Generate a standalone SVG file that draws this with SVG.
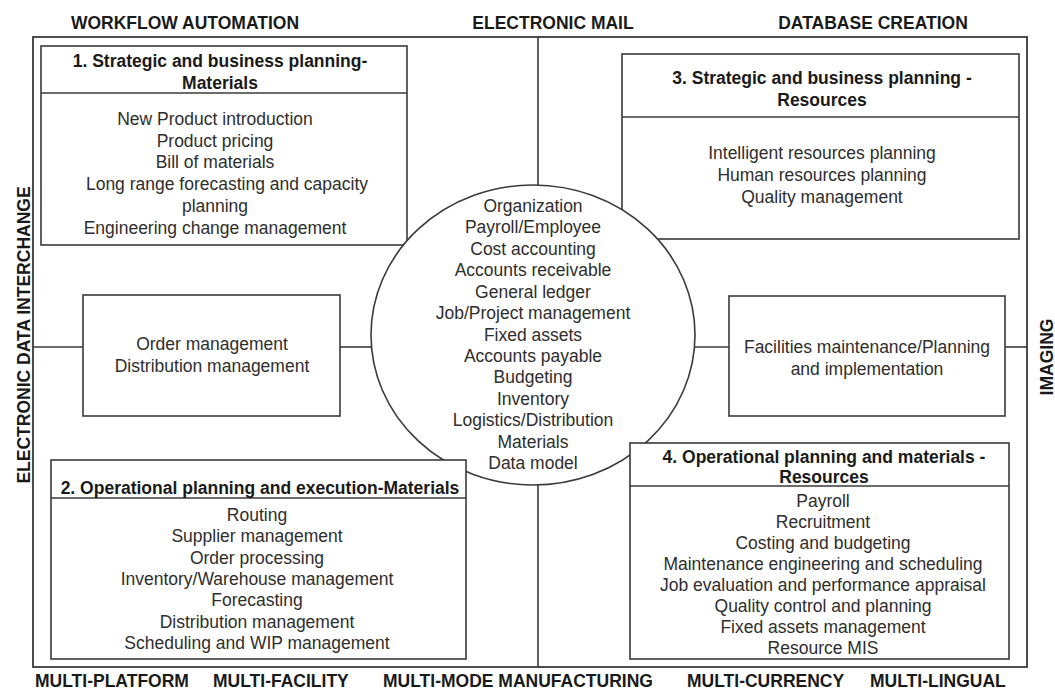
<svg xmlns="http://www.w3.org/2000/svg" width="1055" height="689" viewBox="0 0 1055 689">
  <style>
    .frame { fill: none; stroke: #3a3a3a; stroke-width: 1.8; }
    .box { fill: #ffffff; stroke: #3a3a3a; stroke-width: 1.6; }
    .rule { stroke: #3a3a3a; stroke-width: 1.6; }
    .conn { stroke: #3a3a3a; stroke-width: 1.6; fill: none; }
    .hub { fill: #ffffff; stroke: #3a3a3a; stroke-width: 1.6; }
    .label { font-family: "Liberation Sans", Arial, sans-serif; font-weight: bold; font-size: 17.5px; fill: #1a1a1a; }
    .head { font-family: "Liberation Sans", Arial, sans-serif; font-weight: bold; font-size: 17.5px; fill: #1a1a1a; text-anchor: middle; }
    .body { font-family: "Liberation Sans", Arial, sans-serif; font-size: 17.5px; fill: #2e2e2e; text-anchor: middle; }
  </style>

  <rect width="1055" height="689" fill="#ffffff"/>

  <!-- outer frame and side labels -->
  <g id="frame">
    <rect class="frame" x="33" y="37" width="994" height="630"/>
    <text class="label" x="185" y="29" text-anchor="middle">WORKFLOW AUTOMATION</text>
    <text class="label" x="553" y="29" text-anchor="middle">ELECTRONIC MAIL</text>
    <text class="label" x="873" y="29" text-anchor="middle">DATABASE CREATION</text>
    <text class="label" transform="translate(30,335) rotate(-90)" text-anchor="middle">ELECTRONIC DATA INTERCHANGE</text>
    <text class="label" transform="translate(1053,357) rotate(-90)" text-anchor="middle">IMAGING</text>
    <text class="label" x="35" y="687">MULTI-PLATFORM</text>
    <text class="label" x="213" y="687">MULTI-FACILITY</text>
    <text class="label" x="383" y="687">MULTI-MODE MANUFACTURING</text>
    <text class="label" x="687" y="687">MULTI-CURRENCY</text>
    <text class="label" x="870" y="687">MULTI-LINGUAL</text>
  </g>

  <!-- connectors -->
  <g id="connectors">
    <line class="conn" x1="538" y1="37" x2="538" y2="186"/>
    <line class="conn" x1="538" y1="484" x2="538" y2="667"/>
    <line class="conn" x1="33" y1="347" x2="83" y2="347"/>
    <line class="conn" x1="340" y1="347" x2="372" y2="347"/>
    <line class="conn" x1="694" y1="347" x2="729" y2="347"/>
    <line class="conn" x1="1005" y1="347" x2="1027" y2="347"/>
  </g>

  <!-- 1. Strategic and business planning - Materials -->
  <g id="box-strategic-materials">
    <rect class="box" x="41" y="46" width="366" height="199"/>
    <line class="rule" x1="41" y1="93" x2="407" y2="93"/>
    <text class="head" x="220" y="67">1. Strategic and business planning-</text>
    <text class="head" x="220" y="89">Materials</text>
    <text class="body" x="215" y="125">New Product introduction</text>
    <text class="body" x="215" y="147">Product pricing</text>
    <text class="body" x="215" y="168">Bill of materials</text>
    <text class="body" x="227" y="190">Long range forecasting and capacity</text>
    <text class="body" x="215" y="212">planning</text>
    <text class="body" x="215" y="234">Engineering change management</text>
  </g>

  <!-- 3. Strategic and business planning - Resources -->
  <g id="box-strategic-resources">
    <rect class="box" x="622" y="54" width="397" height="185"/>
    <line class="rule" x1="622" y1="117" x2="1019" y2="117"/>
    <text class="head" x="822" y="84">3. Strategic and business planning -</text>
    <text class="head" x="822" y="106">Resources</text>
    <text class="body" x="822" y="159">Intelligent resources planning</text>
    <text class="body" x="822" y="181">Human resources planning</text>
    <text class="body" x="822" y="203">Quality management</text>
  </g>

  <!-- order / distribution -->
  <g id="box-order">
    <rect class="box" x="83" y="295" width="257" height="121"/>
    <text class="body" x="212" y="350">Order management</text>
    <text class="body" x="212" y="372">Distribution management</text>
  </g>

  <!-- facilities -->
  <g id="box-facilities">
    <rect class="box" x="729" y="296" width="276" height="120"/>
    <text class="body" x="867" y="353">Facilities maintenance/Planning</text>
    <text class="body" x="867" y="375">and implementation</text>
  </g>

  <!-- central data model -->
  <g id="hub">
    <ellipse class="hub" cx="533" cy="335" rx="162" ry="150"/>
    <text class="body" x="533" y="212">Organization</text>
    <text class="body" x="533" y="233.4">Payroll/Employee</text>
    <text class="body" x="533" y="254.8">Cost accounting</text>
    <text class="body" x="533" y="276.3">Accounts receivable</text>
    <text class="body" x="533" y="297.7">General ledger</text>
    <text class="body" x="533" y="319.1">Job/Project management</text>
    <text class="body" x="533" y="340.5">Fixed assets</text>
    <text class="body" x="533" y="361.9">Accounts payable</text>
    <text class="body" x="533" y="383.4">Budgeting</text>
    <text class="body" x="533" y="404.8">Inventory</text>
    <text class="body" x="533" y="426.2">Logistics/Distribution</text>
    <text class="body" x="533" y="447.6">Materials</text>
    <text class="body" x="533" y="469">Data model</text>
  </g>

  <!-- 2. Operational planning and execution - Materials -->
  <g id="box-operational-materials">
    <rect class="box" x="51" y="460" width="415" height="199"/>
    <line class="rule" x1="51" y1="498" x2="466" y2="498"/>
    <text class="head" x="260" y="494">2. Operational planning and execution-Materials</text>
    <text class="body" x="257" y="521">Routing</text>
    <text class="body" x="257" y="542.3">Supplier management</text>
    <text class="body" x="257" y="563.7">Order processing</text>
    <text class="body" x="257" y="585">Inventory/Warehouse management</text>
    <text class="body" x="257" y="606.3">Forecasting</text>
    <text class="body" x="257" y="627.7">Distribution management</text>
    <text class="body" x="257" y="649">Scheduling and WIP management</text>
  </g>

  <!-- 4. Operational planning and materials - Resources -->
  <g id="box-operational-resources">
    <rect class="box" x="630" y="443" width="379" height="216"/>
    <line class="rule" x1="630" y1="486" x2="1009" y2="486"/>
    <text class="head" x="824" y="463">4. Operational planning and materials -</text>
    <text class="head" x="824" y="483">Resources</text>
    <text class="body" x="823" y="507">Payroll</text>
    <text class="body" x="823" y="528">Recruitment</text>
    <text class="body" x="823" y="549">Costing and budgeting</text>
    <text class="body" x="823" y="570">Maintenance engineering and scheduling</text>
    <text class="body" x="823" y="591">Job evaluation and performance appraisal</text>
    <text class="body" x="823" y="612">Quality control and planning</text>
    <text class="body" x="823" y="633">Fixed assets management</text>
    <text class="body" x="823" y="654">Resource MIS</text>
  </g>
</svg>
